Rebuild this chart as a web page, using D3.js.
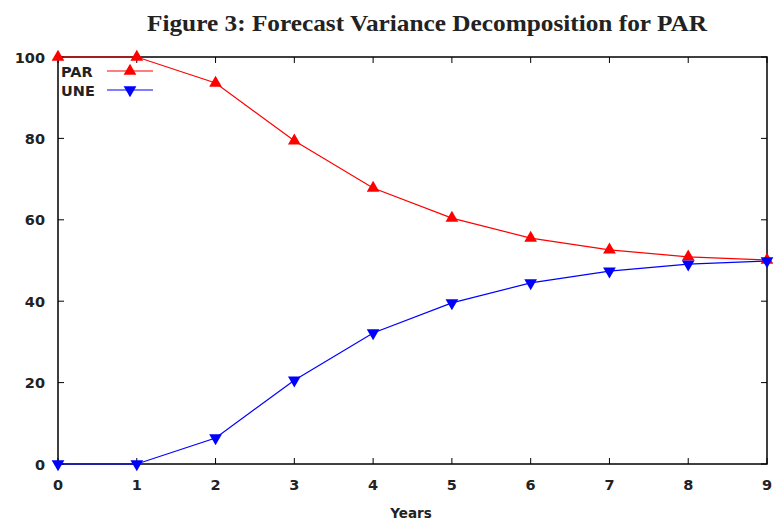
<!DOCTYPE html>
<html>
<head>
<meta charset="utf-8">
<script src="https://cdn.jsdelivr.net/npm/d3@7"></script>
<style>
  body { margin: 0; background: #fff; }
  svg { display: block; }
</style>
</head>
<body>
<svg id="chart" width="773" height="521"></svg>
<script>
// data
const years = [0, 1, 2, 3, 4, 5, 6, 7, 8, 9];
const parValues = [100, 100, 93.6, 79.4, 67.8, 60.4, 55.5, 52.6, 50.9, 50.1];
const uneValues = [0, 0, 6.4, 20.6, 32.2, 39.6, 44.5, 47.4, 49.1, 49.9];
const yTicks = [0, 20, 40, 60, 80, 100];
const xTicks = [0, 1, 2, 3, 4, 5, 6, 7, 8, 9];

const series = [
    { name: 'PAR', values: parValues, color: '#ff0000', up: true },
    { name: 'UNE', values: uneValues, color: '#0000ff', up: false }
];

(function () {
    'use strict';

    const svg = d3.select('#chart');
    const plotL = 58, plotR = 767, plotT = 57, plotB = 464;

    const x = d3.scaleLinear().domain([0, 9]).range([plotL, plotR]);
    const y = d3.scaleLinear().domain([0, 100]).range([plotB, plotT]);

    const tickFont = 'DejaVu Sans, Verdana, sans-serif';
    const tickSize = '14.5px';

    // title
    svg.append('text')
        .attr('x', 427).attr('y', 31)
        .attr('text-anchor', 'middle')
        .attr('font-family', 'Liberation Serif, DejaVu Serif, serif')
        .attr('font-weight', 'bold')
        .attr('font-size', '23px')
        .attr('textLength', 560)
        .attr('lengthAdjust', 'spacingAndGlyphs')
        .attr('fill', '#222')
        .text('Figure 3: Forecast Variance Decomposition for PAR');

    // frame
    svg.append('rect')
        .attr('x', plotL).attr('y', plotT)
        .attr('width', plotR - plotL).attr('height', plotB - plotT)
        .attr('fill', 'none').attr('stroke', '#000').attr('stroke-width', 1.5);

    // ticks mirrored inside the frame
    const g = svg.append('g');
    g.selectAll('.xt').data(xTicks).join('g').each(function (d) {
        const s = d3.select(this);
        s.append('line').attr('x1', x(d)).attr('x2', x(d)).attr('y1', plotB).attr('y2', plotB - 6)
            .attr('stroke', '#000');
        s.append('line').attr('x1', x(d)).attr('x2', x(d)).attr('y1', plotT).attr('y2', plotT + 6)
            .attr('stroke', '#000');
        s.append('text').attr('x', x(d)).attr('y', plotB + 26)
            .attr('text-anchor', 'middle')
            .attr('font-family', tickFont).attr('font-weight', 'bold').attr('font-size', tickSize)
            .attr('fill', '#222').text(d);
    });
    g.selectAll('.yt').data(yTicks).join('g').each(function (d) {
        const s = d3.select(this);
        s.append('line').attr('x1', plotL).attr('x2', plotL + 6).attr('y1', y(d)).attr('y2', y(d))
            .attr('stroke', '#000');
        s.append('line').attr('x1', plotR).attr('x2', plotR - 6).attr('y1', y(d)).attr('y2', y(d))
            .attr('stroke', '#000');
        s.append('text').attr('x', plotL - 13).attr('y', y(d) + 5.5)
            .attr('text-anchor', 'end')
            .attr('font-family', tickFont).attr('font-weight', 'bold').attr('font-size', tickSize)
            .attr('fill', '#222').text(d);
    });

    svg.append('text')
        .attr('x', 411).attr('y', 518)
        .attr('text-anchor', 'middle')
        .attr('font-family', tickFont).attr('font-weight', 'bold').attr('font-size', '13.5px')
        .attr('fill', '#222').text('Years');

    // lines and markers
    const line = d3.line().x((d, i) => x(years[i])).y(d => y(d));
    const tri = d3.symbol().type(d3.symbolTriangle).size(70);

    series.forEach(s => {
        svg.append('path')
            .datum(s.values)
            .attr('d', line)
            .attr('fill', 'none')
            .attr('stroke', s.color)
            .attr('stroke-width', 1.2);

        svg.append('g').selectAll('path')
            .data(s.values)
            .join('path')
            .attr('d', tri)
            .attr('transform', (d, i) => `translate(${x(years[i])},${y(d)}) rotate(${s.up ? 0 : 180})`)
            .attr('fill', s.color);
    });

    // legend
    series.forEach((s, i) => {
        const ly = 71 + i * 19;
        svg.append('text')
            .attr('x', 61).attr('y', ly + 5.5)
            .attr('font-family', tickFont).attr('font-weight', 'bold').attr('font-size', tickSize)
            .attr('fill', '#222').text(s.name);
        svg.append('line')
            .attr('x1', 107).attr('x2', 153).attr('y1', ly).attr('y2', ly)
            .attr('stroke', s.color).attr('stroke-width', 1.2);
        svg.append('path')
            .attr('d', tri)
            .attr('transform', `translate(130,${ly}) rotate(${s.up ? 0 : 180})`)
            .attr('fill', s.color);
    });
})();
</script>
</body>
</html>
